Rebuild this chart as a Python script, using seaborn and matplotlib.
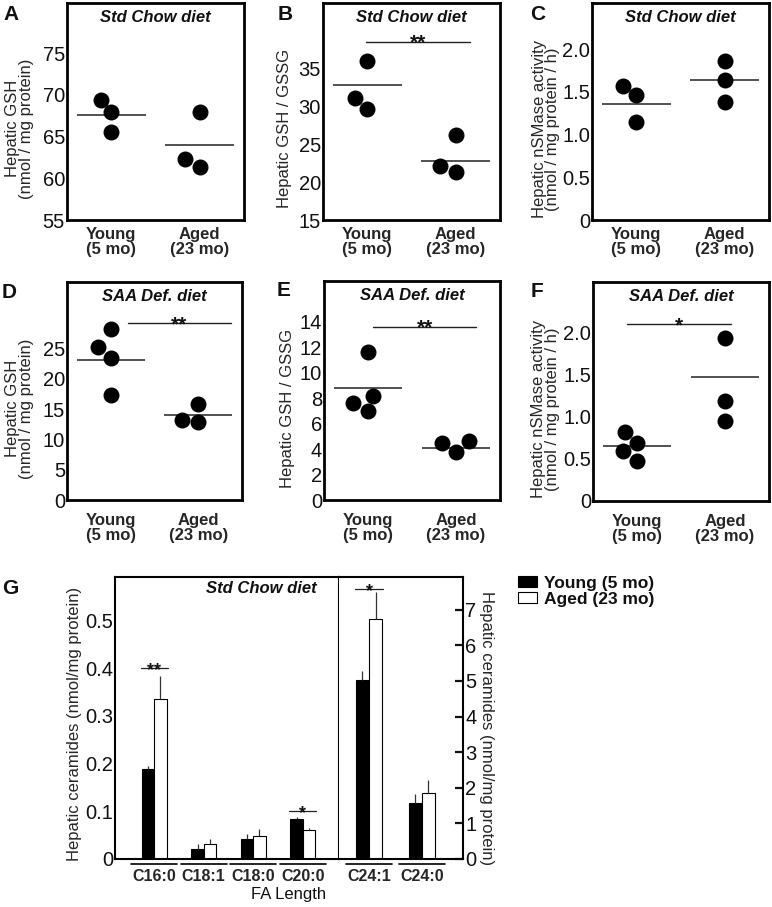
import numpy as np
import pandas as pd
import seaborn as sns
import matplotlib.pyplot as plt
import matplotlib.transforms as mtransforms
from matplotlib.ticker import FixedLocator

W, H = 772, 907

groups = ["Young\n(5 mo)", "Aged\n(23 mo)"]
ages = ["Young (5 mo)", "Aged (23 mo)"]

# A-F: individual animals
gsh_chow_young = [69.4, 67.9, 65.6]
gsh_chow_aged = [68.0, 61.3, 62.3]
ratio_chow_young = [36.0, 31.2, 29.7]
ratio_chow_aged = [26.2, 22.1, 21.3]
smase_chow_young = [1.46, 1.57, 1.15]
smase_chow_aged = [1.86, 1.64, 1.38]
gsh_saa_young = [28.3, 25.2, 23.4, 17.3]
gsh_saa_aged = [15.8, 12.9, 13.2]
ratio_saa_young = [11.6, 8.2, 7.6, 7.0]
ratio_saa_aged = [4.45, 3.8, 4.6]
smase_saa_young = [0.82, 0.69, 0.59, 0.48]
smase_saa_aged = [1.94, 1.19, 0.95]

# group means drawn as horizontal lines
mean_gsh_chow = [67.6, 64.0]
mean_ratio_chow = [32.9, 22.8]
mean_smase_chow = [1.36, 1.64]
mean_gsh_saa = [23.1, 14.0]
mean_ratio_saa = [8.8, 4.1]
mean_smase_saa = [0.65, 1.47]

# G: ceramides by fatty acid length
fa_left = ["C16:0", "C18:1", "C18:0", "C20:0"]
young_left = [0.189, 0.021, 0.042, 0.083]
young_left_err = [0.006, 0.010, 0.010, 0.004]
aged_left = [0.335, 0.031, 0.049, 0.060]
aged_left_err = [0.049, 0.011, 0.013, 0.006]
fa_right = ["C24:1", "C24:0"]
young_right = [5.03, 1.56]
young_right_err = [0.25, 0.27]
aged_right = [6.74, 1.86]
aged_right_err = [0.75, 0.36]

sns.set_style("white")
plt.rcParams["font.family"] = ["Liberation Sans", "DejaVu Sans"]
plt.rcParams["text.color"] = "#111111"


def px_rect(l, t, r, b):
    return [l / W, 1 - b / H, (r - l) / W, (b - t) / H]


def stars(ax, x0, x1, y, txt, size=15, lw=1.0):
    ax.plot([x0, x1], [y, y], color="#222222", lw=lw, clip_on=False)
    ax.annotate(txt, ((x0 + x1) / 2, y), xytext=(0, -5), textcoords="offset points",
                ha="center", va="baseline", fontsize=size, fontweight="bold")


def dot_panel(rect, young, aged, means, ylim, yticks, yticklabels, ylabel, title,
              label_x, xpad, sig=None):
    ax = fig.add_axes(px_rect(*rect))
    df = pd.DataFrame({"group": [groups[0]] * len(young) + [groups[1]] * len(aged),
                       "value": young + aged})
    sns.swarmplot(data=df, x="group", y="value", order=groups, color="black",
                  size=11.5, zorder=3, ax=ax)
    for i, m in enumerate(means):
        ax.hlines(m, i - 0.39, i + 0.39, color="#222222", lw=1.1, zorder=1)
    ax.set_xlim(-0.5, 1.5)
    ax.set_ylim(*ylim)
    ax.set_yticks(yticks)
    ax.set_yticklabels(yticklabels)
    ax.tick_params(axis="y", direction="in", length=6.5, width=1.8, pad=1.5,
                   labelsize=14.5, colors="#111111")
    ax.tick_params(axis="x", length=0, pad=xpad, labelsize=12)
    plt.setp(ax.get_xticklabels(), fontweight="bold", linespacing=1.0)
    ax.set_xlabel("")
    ax.set_ylabel(ylabel, fontsize=12, va="center", ha="center", linespacing=0.9)
    ax.yaxis.set_label_coords(label_x, 0.42)
    for s in ax.spines.values():
        s.set_linewidth(2)
        s.set_color("black")
    ax.text(0.5, 0.935, title, transform=ax.transAxes, ha="center", va="center",
            fontsize=12, fontweight="bold", fontstyle="italic")
    if sig is not None:
        stars(ax, *sig)
    return ax


fig = plt.figure(figsize=(W / 100, H / 100), dpi=100)

gsh_label = "Hepatic GSH\n(nmol / mg protein)"
ratio_label = "Hepatic GSH / GSSG"
smase_label = "Hepatic nSMase activity\n(nmol / mg protein / h)"

dot_panel((67, 3, 244, 220), gsh_chow_young, gsh_chow_aged, mean_gsh_chow,
          (55, 81), [55, 60, 65, 70, 75], ["55", "60", "65", "70", "75"],
          gsh_label, "Std Chow diet", -0.27, 5)
dot_panel((323, 3, 500, 220), ratio_chow_young, ratio_chow_aged, mean_ratio_chow,
          (15, 43.7), [15, 20, 25, 30, 35], ["15", "20", "25", "30", "35"],
          ratio_label, "Std Chow diet", -0.215, 5, sig=(-0.01, 1.16, 38.6, "**"))
dot_panel((592, 3, 769, 220), smase_chow_young, smase_chow_aged, mean_smase_chow,
          (0, 2.54), [0, 0.5, 1.0, 1.5, 2.0], ["0", "0.5", "1.0", "1.5", "2.0"],
          smase_label, "Std Chow diet", -0.26, 5)
dot_panel((67, 282, 242, 500), gsh_saa_young, gsh_saa_aged, mean_gsh_saa,
          (0, 36), [0, 5, 10, 15, 20, 25], ["0", "5", "10", "15", "20", "25"],
          gsh_label, "SAA Def. diet", -0.27, 9.5, sig=(0.2, 1.37, 29.2, "**"))
dot_panel((324, 281, 500, 500), ratio_saa_young, ratio_saa_aged, mean_ratio_saa,
          (0, 17.2), list(range(0, 15, 2)), [str(v) for v in range(0, 15, 2)],
          ratio_label, "SAA Def. diet", -0.205, 9.5, sig=(0.06, 1.23, 13.6, "**"))
axF = dot_panel((593, 282, 769, 501), smase_saa_young, smase_saa_aged, mean_smase_saa,
                (0, 2.6), [0, 0.5, 1.0, 1.5, 2.0], ["0", "0.5", "1.0", "1.5", "2.0"],
                smase_label, "SAA Def. diet", -0.27, 9.5, sig=(-0.11, 1.07, 2.1, "*"))
# panel F: tick marks sit between the printed labels
axF.tick_params(axis="y", which="major", length=0)
axF.yaxis.set_minor_locator(FixedLocator([0.33, 0.77, 1.22, 1.67]))
axF.tick_params(axis="y", which="minor", direction="in", length=6.5, width=1.8,
                labelleft=False)

# ---- G
axL = fig.add_axes(px_rect(115, 577, 339, 859))
axR = fig.add_axes(px_rect(339, 577, 463, 859))
pal = {ages[0]: "black", ages[1]: "white"}

cer_left = pd.DataFrame({"fa": fa_left * 2,
                         "age": [ages[0]] * len(fa_left) + [ages[1]] * len(fa_left),
                         "value": young_left + aged_left})
cer_right = pd.DataFrame({"fa": fa_right * 2,
                          "age": [ages[0]] * len(fa_right) + [ages[1]] * len(fa_right),
                          "value": young_right + aged_right})

sns.barplot(data=cer_left, x="fa", y="value", hue="age", order=fa_left, hue_order=ages,
            palette=pal, saturation=1, width=0.5, errorbar=None, edgecolor="black",
            linewidth=0.8, legend=False, ax=axL)
sns.barplot(data=cer_right, x="fa", y="value", hue="age", order=fa_right, hue_order=ages,
            palette=pal, saturation=1, width=0.5, errorbar=None, edgecolor="black",
            linewidth=0.8, ax=axR)

for ax, errs in [(axL, [young_left_err, aged_left_err]),
                 (axR, [young_right_err, aged_right_err])]:
    for cont, err in zip(ax.containers, errs):
        for bar, e in zip(cont, err):
            x = bar.get_x() + bar.get_width() / 2
            top = bar.get_height()
            ax.vlines(x, top, top + e, color="#333333", lw=0.9)

axL.set_xlim(-0.79, 3.73)
axL.set_ylim(0, 0.591)
axL.set_yticks([0, 0.1, 0.2, 0.3, 0.4, 0.5])
axL.set_yticklabels(["0", "0.1", "0.2", "0.3", "0.4", "0.5"])
axR.set_xlim(-0.57, 1.78)
axR.set_ylim(0, 7.92)
axR.set_yticks(range(0, 8))
axR.yaxis.tick_right()
axR.yaxis.set_label_position("right")

for ax, half in [(axL, 0.46), (axR, 0.44)]:
    ax.tick_params(axis="y", direction="in", length=6, width=1.6, pad=1.5,
                   labelsize=14.5, colors="#111111")
    ax.tick_params(axis="x", length=0, pad=7, labelsize=11.5)
    plt.setp(ax.get_xticklabels(), fontweight="bold")
    ax.set_xlabel("")
    for s in ax.spines.values():
        s.set_linewidth(1.5)
        s.set_color("black")
    trans = mtransforms.blended_transform_factory(ax.transData, ax.transAxes)
    for i in range(len(ax.get_xticks())):
        ax.plot([i - half, i + half], [-0.019, -0.019], color="black", lw=1.2,
                transform=trans, clip_on=False)
axR.spines["left"].set_visible(False)

axL.set_ylabel("Hepatic ceramides (nmol/mg protein)", fontsize=12, va="center", ha="center")
axL.yaxis.set_label_coords(-0.18, 0.48)
axR.set_ylabel("Hepatic ceramides (nmol/mg protein)", fontsize=12, va="center", ha="center",
               rotation=270)
axR.yaxis.set_label_coords(1.19, 0.466)

axL.text(0.654, 0.96, "Std Chow diet", transform=axL.transAxes, ha="center", va="center",
         fontsize=12, fontweight="bold", fontstyle="italic")
stars(axL, -0.27, 0.27, 0.4, "**", size=13, lw=0.9)
stars(axL, 2.73, 3.27, 0.1, "*", size=13, lw=0.9)
stars(axR, -0.26, 0.26, 7.58, "*", size=13, lw=0.9)

sns.move_legend(axR, "upper left", bbox_to_anchor=(518 / W, 1 - 576 / H),
                bbox_transform=fig.transFigure, frameon=False, title=None,
                prop=dict(weight="bold", size=12.5), handlelength=1.1, handleheight=0.6,
                handletextpad=0.4, labelspacing=0.05, borderpad=0, borderaxespad=0)

fig.text(289 / W, 1 - 895 / H, "FA Length", ha="center", va="center", fontsize=12)

for letter, x, y in [("A", 11, 14), ("B", 285, 14), ("C", 538, 14), ("D", 9, 293),
                     ("E", 284, 291), ("F", 537, 292), ("G", 10, 589)]:
    fig.text(x / W, 1 - y / H, letter, ha="center", va="center", fontsize=15,
             fontweight="bold")

fig.savefig("out.png", dpi=100)
